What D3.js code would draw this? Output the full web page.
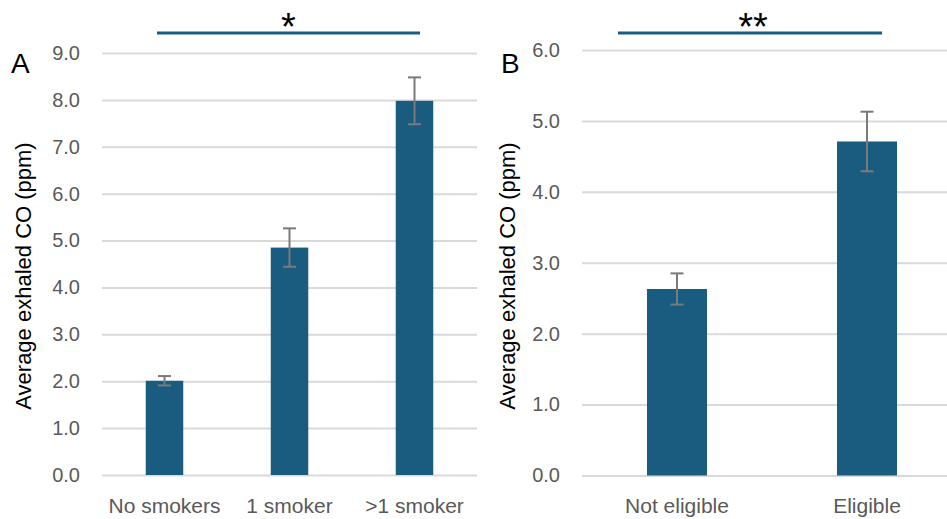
<!DOCTYPE html>
<html>
<head>
<meta charset="utf-8">
<script src="https://cdn.jsdelivr.net/npm/d3@7"></script>
<style>
  html, body { margin: 0; padding: 0; background: #fff; }
  svg { display: block; font-family: "Liberation Sans", Arial, sans-serif; }
</style>
</head>
<body>
<svg id="chart" width="947" height="519"></svg>
<script>
// Panel A: exhaled CO by number of smokers in the household
const categoriesA = ["No smokers", "1 smoker", ">1 smoker"];
const meansA = [2.01, 4.85, 7.98];
const errorsA = [0.10, 0.41, 0.50];
const ticksA = [0, 1, 2, 3, 4, 5, 6, 7, 8, 9];
const sigA = "*";

// Panel B: exhaled CO by eligibility
const categoriesB = ["Not eligible", "Eligible"];
const meansB = [2.63, 4.71];
const errorsB = [0.22, 0.42];
const ticksB = [0, 1, 2, 3, 4, 5, 6];
const sigB = "**";

const yTitle = "Average exhaled CO (ppm)";

const BAR = "#1a5c80";
const GRID = "#d9d9d9";
const TICK_TEXT = "#595959";
const ERR = "#7a7a7a";
const SIG = "#1b5a84";

const svg = d3.select("#chart");

function panel(opts) {
  const g = svg.append("g");
  const x = d3.scaleBand()
    .domain(opts.categories)
    .range(opts.xRange)
    .paddingInner(opts.padInner)
    .paddingOuter(opts.padOuter);
  const y = d3.scaleLinear()
    .domain([0, d3.max(opts.ticks)])
    .range(opts.yRange);

  // gridlines + tick labels via a left axis
  const axis = d3.axisLeft(y)
    .tickValues(opts.ticks)
    .tickFormat(d3.format(".1f"))
    .tickSize(-(opts.gridEnd - opts.xRange[0]))
    .tickPadding(22);
  const ag = g.append("g")
    .attr("transform", `translate(${opts.xRange[0]},0)`)
    .call(axis);
  ag.select(".domain").remove();
  ag.selectAll(".tick line").attr("stroke", GRID).attr("stroke-width", 2);
  ag.selectAll(".tick text")
    .attr("fill", TICK_TEXT)
    .attr("font-size", 20)
    .attr("font-family", "Liberation Sans, Arial, sans-serif");

  const data = opts.categories.map((c, i) => ({ c, v: opts.means[i], e: opts.errors[i] }));

  // bars
  g.selectAll("rect.bar").data(data).join("rect")
    .attr("class", "bar")
    .attr("x", d => x(d.c))
    .attr("width", x.bandwidth())
    .attr("y", d => y(d.v))
    .attr("height", d => y(0) - y(d.v))
    .attr("fill", BAR);

  // error bars
  const cap = 6.5;
  const eb = g.selectAll("g.err").data(data).join("g").attr("class", "err")
    .attr("stroke", ERR).attr("stroke-width", 2);
  eb.append("line")
    .attr("x1", d => x(d.c) + x.bandwidth() / 2)
    .attr("x2", d => x(d.c) + x.bandwidth() / 2)
    .attr("y1", d => y(d.v + d.e))
    .attr("y2", d => y(d.v - d.e));
  eb.append("line")
    .attr("x1", d => x(d.c) + x.bandwidth() / 2 - cap)
    .attr("x2", d => x(d.c) + x.bandwidth() / 2 + cap)
    .attr("y1", d => y(d.v + d.e))
    .attr("y2", d => y(d.v + d.e));
  eb.append("line")
    .attr("x1", d => x(d.c) + x.bandwidth() / 2 - cap)
    .attr("x2", d => x(d.c) + x.bandwidth() / 2 + cap)
    .attr("y1", d => y(d.v - d.e))
    .attr("y2", d => y(d.v - d.e));

  // category labels
  g.selectAll("text.cat").data(data).join("text")
    .attr("class", "cat")
    .attr("x", d => x(d.c) + x.bandwidth() / 2)
    .attr("y", 513)
    .attr("text-anchor", "middle")
    .attr("font-size", 21)
    .attr("fill", TICK_TEXT)
    .text(d => d.c);

  // y axis title
  g.append("text")
    .attr("transform", `translate(${opts.titleX},276) rotate(-90)`)
    .attr("text-anchor", "middle")
    .attr("dy", "0.35em")
    .attr("font-size", 22)
    .attr("fill", "#000")
    .text(yTitle);

  // panel letter
  g.append("text")
    .attr("x", opts.letterX)
    .attr("y", 73)
    .attr("font-size", 28)
    .attr("fill", "#000")
    .text(opts.letter);

  // significance bracket
  g.append("line")
    .attr("x1", opts.sigX[0]).attr("x2", opts.sigX[1])
    .attr("y1", 33).attr("y2", 33)
    .attr("stroke", SIG).attr("stroke-width", 3);
  g.append("text")
    .attr("x", (opts.sigX[0] + opts.sigX[1]) / 2 + opts.sigShift)
    .attr("y", 40)
    .attr("text-anchor", "middle")
    .attr("font-size", 38)
    .attr("fill", "#000")
    .text(opts.sig);
}

panel({
  categories: categoriesA, means: meansA, errors: errorsA, ticks: ticksA, sig: sigA,
  xRange: [102, 477], gridEnd: 477, yRange: [475, 53],
  padInner: 0.7, padOuter: 0.35,
  titleX: 23, letter: "A", letterX: 11,
  sigX: [157, 420], sigShift: 0
});

panel({
  categories: categoriesB, means: meansB, errors: errorsB, ticks: ticksB, sig: sigB,
  xRange: [582, 962], gridEnd: 962, yRange: [475.5, 50],
  padInner: 0.684, padOuter: 0.342,
  titleX: 507, letter: "B", letterX: 501,
  sigX: [618, 882], sigShift: 3
});
</script>
</body>
</html>
